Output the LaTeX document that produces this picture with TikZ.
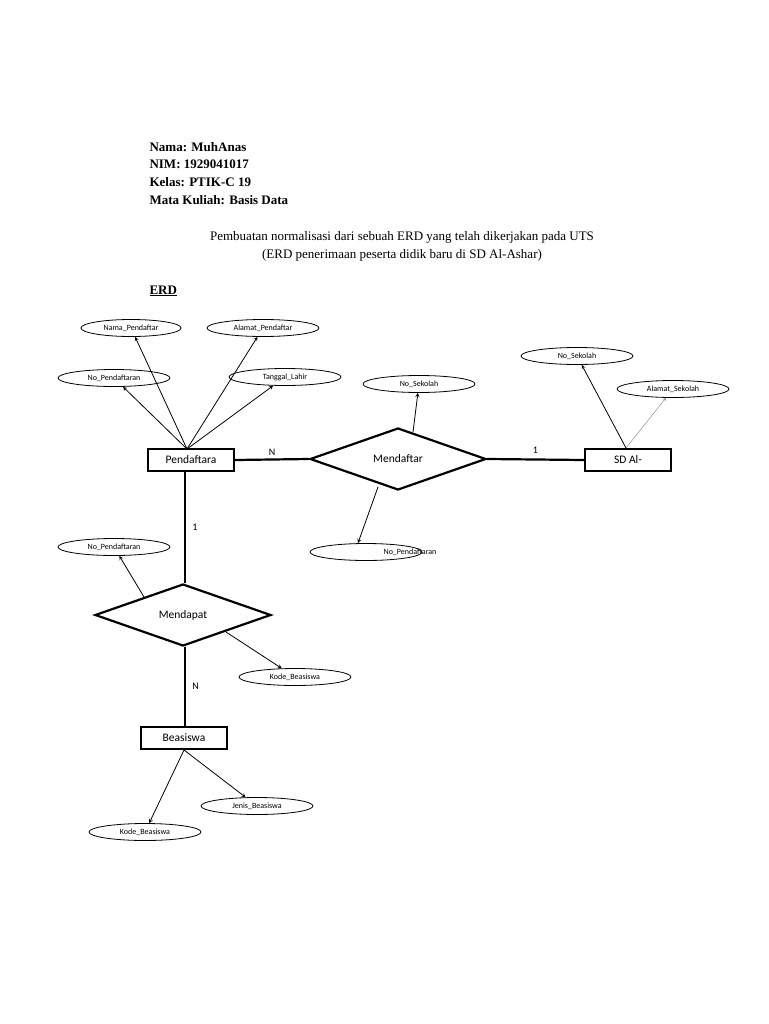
\documentclass[tikz,border=0pt]{standalone}
\usepackage{fontspec}
\setmainfont{Liberation Serif}
\newfontfamily\diafont{Carlito}
\usetikzlibrary{shapes.geometric}
\tikzset{
  attr/.style={draw, thick, ellipse, minimum width=112pt, minimum height=17pt, inner sep=0pt, font=\diafont\fontsize{8}{9}\selectfont},
  ent/.style={draw, line width=2.2pt, minimum width=86pt, minimum height=22pt, inner sep=0pt, font=\diafont\fontsize{11.5}{12}\selectfont},
  rel/.style={draw, line width=2.2pt, diamond, aspect=2.9, minimum width=176pt, minimum height=62pt, inner sep=0pt, font=\diafont\fontsize{11.5}{12}\selectfont},
  link/.style={line width=2.2pt},
  toattr/.style={->, >=stealth, thick},
  card/.style={font=\diafont\fontsize{10}{11}\selectfont}
}
\begin{document}
\begin{tikzpicture}[x=1pt, y=-1pt]
    \useasboundingbox (0,0) rectangle (768,1024);

    % Kopf
    \node[anchor=west, font=\bfseries\fontsize{13}{14}\selectfont] (nama) at (146,147) {Nama: MuhAnas};
    \node[anchor=west, font=\bfseries\fontsize{13}{14}\selectfont] (nim) at (146,164) {NIM: 1929041017};
    \node[anchor=west, font=\bfseries\fontsize{13}{14}\selectfont] (kelas) at (146,182) {Kelas: PTIK-C 19};
    \node[anchor=west, font=\bfseries\fontsize{13}{14}\selectfont] (mk) at (146,200) {Mata Kuliah: Basis Data};
    \node[font=\fontsize{13}{14}\selectfont] (judul1) at (402,237) {Pembuatan normalisasi dari sebuah ERD yang telah dikerjakan pada UTS};
    \node[font=\fontsize{13}{14}\selectfont] (judul2) at (402,255) {(ERD penerimaan peserta didik baru di SD Al-Ashar)};
    \node[anchor=west, font=\bfseries\fontsize{13}{14}\selectfont] (erd) at (146,291) {\underline{ERD}};

    % Entitaeten und Relasi
    \node[ent] (pend) at (191,460) {Pendaftara};
    \node[ent] (sd) at (628,460) {SD Al-};
    \node[ent] (beas) at (184,738) {Beasiswa};
    \node[rel] (mdaftar) at (398,459) {Mendaftar};
    \node[rel] (mdapat) at (183,615) {Mendapat};

    % Atribut
    \node[attr, minimum width=100pt] (namap) at (131,328) {Nama\_Pendaftar};
    \node[attr] (alamatp) at (263,328) {Alamat\_Pendaftar};
    \node[attr] (nop1) at (114,378) {No\_Pendaftaran};
    \node[attr] (tgl) at (285,377) {Tanggal\_Lahir};
    \node[attr] (nos1) at (419,384) {No\_Sekolah};
    \node[attr] (nop2) at (366,552) {};
    \node[font=\diafont\fontsize{8}{9}\selectfont] (nop2txt) at (410,552) {No\_Pendaftaran};
    \node[attr] (nos2) at (577,356) {No\_Sekolah};
    \node[attr] (alamats) at (673,389) {Alamat\_Sekolah};
    \node[attr] (nop3) at (114,547) {No\_Pendaftaran};
    \node[attr] (kode1) at (295,677) {Kode\_Beasiswa};
    \node[attr] (jenis) at (257,806) {Jenis\_Beasiswa};
    \node[attr] (kode2) at (145,832) {Kode\_Beasiswa};

    % Titik awal panah
    \coordinate (p0) at (187,449);
    \coordinate (m1) at (413,432);
    \coordinate (m2) at (378,487);
    \coordinate (s0) at (626,448);
    \coordinate (d1) at (144,597);
    \coordinate (d2) at (226,632);
    \coordinate (b0) at (184,750);

    % Garis relasi
    \draw[link] (pend.east) -- (mdaftar.west) node[card, midway, above] {N};
    \draw[link] (mdaftar.east) -- (sd.west) node[card, midway, above=2pt] {1};
    \draw[link] (pend.south -| 185,0) -- (mdapat.north -| 185,0) node[card, midway, right=3pt] {1};
    \draw[link] (mdapat.south -| 185,0) -- (beas.north -| 185,0) node[card, midway, right=3pt] {N};

    % Panah atribut
    \draw[toattr] (p0) -- (nop1);
    \draw[toattr] (p0) -- (namap);
    \draw[toattr] (p0) -- (alamatp);
    \draw[toattr] (p0) -- (tgl);
    \draw[toattr] (m1) -- (nos1);
    \draw[toattr] (m2) -- (358,543);
    \draw[toattr] (s0) -- (nos2);
    \draw[->, >=stealth, gray] (s0) -- (alamats);
    \draw[toattr] (d1) -- (nop3);
    \draw[toattr] (d2) -- (kode1);
    \draw[toattr] (b0) -- (jenis);
    \draw[toattr] (b0) -- (kode2);
\end{tikzpicture}
\end{document}
